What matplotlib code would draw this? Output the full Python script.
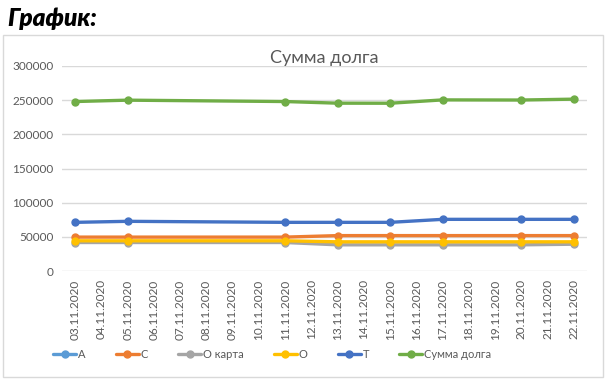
import matplotlib.pyplot as plt
from matplotlib.patches import Rectangle

# Données
all_dates = ["03.11.2020", "04.11.2020", "05.11.2020", "06.11.2020", "07.11.2020",
             "08.11.2020", "09.11.2020", "10.11.2020", "11.11.2020", "12.11.2020",
             "13.11.2020", "14.11.2020", "15.11.2020", "16.11.2020", "17.11.2020",
             "18.11.2020", "19.11.2020", "20.11.2020", "21.11.2020", "22.11.2020"]
data_dates = ["03.11.2020", "05.11.2020", "11.11.2020", "13.11.2020",
              "15.11.2020", "17.11.2020", "20.11.2020", "22.11.2020"]

a_vals = []  # pas de valeurs visibles
c_vals = [49600, 49600, 49600, 51800, 51800, 51800, 51800, 51800]
ok_vals = [41700, 41700, 41700, 38300, 38300, 38300, 38300, 39200]
o_vals = [44200, 44200, 44200, 42700, 42700, 42700, 42700, 42700]
t_vals = [71200, 72700, 71200, 71200, 71200, 75600, 75600, 75600]
sum_vals = [248000, 250000, 248000, 245600, 245500, 250400, 250200, 251500]

series = [
    ("А", a_vals, "#5B9BD5"),
    ("С", c_vals, "#ED7D31"),
    ("О карта", ok_vals, "#A5A5A5"),
    ("О", o_vals, "#FFC000"),
    ("Т", t_vals, "#4472C4"),
    ("Сумма долга", sum_vals, "#70AD47"),
]

plt.rcParams['font.family'] = ['Lato', 'DejaVu Sans']

fig = plt.figure(figsize=(6.1, 3.84), dpi=100)

# cadre du graphique
fig.patches.append(Rectangle((3 / 610, 1 - 377 / 384), 600 / 610, 342 / 384,
                             transform=fig.transFigure, fill=False,
                             edgecolor="#D9D9D9", lw=1))

fig.text(0.012, 0.952, "График:", fontsize=17.5, fontweight="heavy",
         fontstyle="italic", va="center", ha="left")

ax = fig.add_axes([62 / 610, 1 - 271 / 384, 525 / 610, 205 / 384])

idx = [all_dates.index(d) for d in data_dates]
for name, vals, col in series:
    xs = idx[:len(vals)]
    ax.plot(xs, vals, color=col, lw=2.4, marker="o", ms=5, label=name,
            solid_capstyle="round")

ax.set_xlim(-0.5, 19.5)
ax.set_ylim(0, 300000)
ax.set_yticks(range(0, 300001, 50000))
ax.set_xticks(range(len(all_dates)))
ax.set_xticklabels(all_dates, rotation=90)
ax.tick_params(length=0, labelsize=8.5, labelcolor="#595959", pad=6)
ax.grid(axis="y", color="#D9D9D9", lw=1)
ax.set_axisbelow(True)
for s in ax.spines.values():
    s.set_visible(False)

ax.set_title("Сумма долга", fontsize=13, color="#595959", pad=2)

fig.legend(loc="center left", bbox_to_anchor=(53 / 610, 1 - 354 / 384), ncol=6,
           frameon=False, fontsize=8, handlelength=2.1, columnspacing=2.7,
           handletextpad=0.15, borderpad=0, borderaxespad=0,
           labelcolor="#595959")

fig.savefig("out.png", dpi=100)
